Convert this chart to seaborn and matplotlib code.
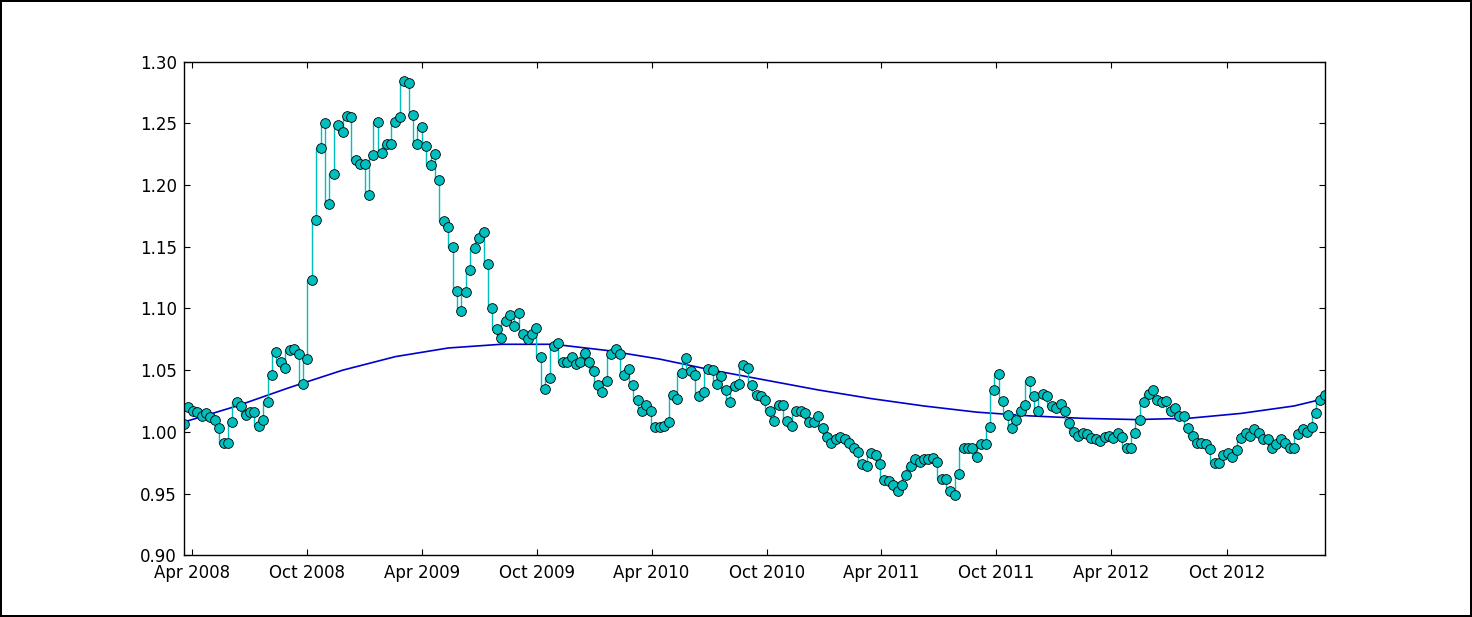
import numpy as np
import pandas as pd
import matplotlib
matplotlib.use("Agg")
import matplotlib.pyplot as plt
import matplotlib.dates as mdates
import seaborn as sns

# weekly values, starting mid March 2008
START_DATE = "2008-03-19"
VALUES = [
    1.006, 1.020, 1.017, 1.016, 1.013, 1.015, 1.012, 1.010, 1.003, 0.991,
    0.991, 1.008, 1.024, 1.021, 1.014, 1.016, 1.016, 1.005, 1.010, 1.024,
    1.046, 1.065, 1.057, 1.052, 1.066, 1.067, 1.063, 1.039, 1.059, 1.123,
    1.172, 1.230, 1.250, 1.185, 1.209, 1.249, 1.243, 1.256, 1.255, 1.220,
    1.217, 1.217, 1.192, 1.224, 1.251, 1.226, 1.233, 1.233, 1.251, 1.255,
    1.284, 1.283, 1.257, 1.233, 1.247, 1.232, 1.216, 1.225, 1.204, 1.171,
    1.166, 1.150, 1.114, 1.098, 1.113, 1.131, 1.149, 1.157, 1.162, 1.136,
    1.100, 1.083, 1.076, 1.090, 1.095, 1.086, 1.096, 1.079, 1.075, 1.079,
    1.084, 1.061, 1.035, 1.044, 1.070, 1.072, 1.057, 1.057, 1.061, 1.055,
    1.057, 1.064, 1.057, 1.049, 1.038, 1.032, 1.041, 1.063, 1.067, 1.063,
    1.046, 1.051, 1.038, 1.026, 1.017, 1.022, 1.017, 1.004, 1.004, 1.005,
    1.008, 1.030, 1.027, 1.048, 1.060, 1.049, 1.046, 1.029, 1.032, 1.051,
    1.050, 1.039, 1.045, 1.034, 1.024, 1.037, 1.039, 1.054, 1.052, 1.038,
    1.030, 1.029, 1.026, 1.017, 1.009, 1.022, 1.022, 1.009, 1.005, 1.017,
    1.017, 1.015, 1.008, 1.008, 1.013, 1.003, 0.996, 0.991, 0.994, 0.996,
    0.994, 0.991, 0.987, 0.984, 0.974, 0.972, 0.983, 0.981, 0.974, 0.961,
    0.960, 0.957, 0.952, 0.957, 0.965, 0.972, 0.978, 0.976, 0.978, 0.978,
    0.979, 0.976, 0.962, 0.962, 0.952, 0.949, 0.966, 0.987, 0.987, 0.987,
    0.980, 0.990, 0.990, 1.004, 1.034, 1.047, 1.025, 1.014, 1.003, 1.010,
    1.017, 1.022, 1.041, 1.029, 1.017, 1.031, 1.029, 1.021, 1.019, 1.023,
    1.017, 1.007, 1.000, 0.997, 0.999, 0.998, 0.995, 0.994, 0.993, 0.996,
    0.997, 0.995, 0.999, 0.996, 0.987, 0.987, 0.999, 1.010, 1.024, 1.031,
    1.034, 1.026, 1.024, 1.025, 1.017, 1.019, 1.013, 1.013, 1.003, 0.997,
    0.991, 0.991, 0.990, 0.986, 0.975, 0.975, 0.981, 0.983, 0.980, 0.985,
    0.995, 0.999, 0.997, 1.002, 0.999, 0.994, 0.994, 0.987, 0.990, 0.994,
    0.991, 0.987, 0.987, 0.998, 1.002, 1.000, 1.004, 1.015, 1.026, 1.030,
]

# trend line at every 12th week (last one at the end)
TREND_WEEKS = [0, 12, 24, 36, 48, 60, 72, 84, 96, 108, 120, 132,
               144, 156, 168, 180, 192, 204, 216, 228, 240, 252, 259]
TREND_VALUES = [1.008, 1.021, 1.036, 1.050, 1.061, 1.068, 1.071, 1.071,
                1.066, 1.059, 1.050, 1.042, 1.034, 1.027, 1.021, 1.016,
                1.013, 1.011, 1.010, 1.011, 1.015, 1.021, 1.027]

Y_TICKS = [0.90, 0.95, 1.00, 1.05, 1.10, 1.15, 1.20, 1.25, 1.30]

sns.set_style("white")
plt.rcParams.update({
    "font.family": ["DejaVu Sans"],
    "font.size": 12,
    "xtick.direction": "in",
    "ytick.direction": "in",
    "xtick.top": True,
    "ytick.right": True,
    "xtick.bottom": True,
    "ytick.left": True,
    "xtick.major.size": 4,
    "ytick.major.size": 4,
    "xtick.color": "black",
    "ytick.color": "black",
    "axes.edgecolor": "black",
    "axes.linewidth": 1.0,
})

dates = pd.date_range(START_DATE, periods=len(VALUES), freq="7D")
df = pd.DataFrame({"x": mdates.date2num(dates), "value": VALUES})
trend = pd.DataFrame({"x": df["x"].iloc[TREND_WEEKS].values, "value": TREND_VALUES})

fig = plt.figure(figsize=(14.72, 6.17), dpi=100)
fig.patch.set_edgecolor("black")
fig.patch.set_linewidth(1.5)
ax = fig.add_axes([0.125, 0.1, 0.775, 0.8])

# trend line
sns.lineplot(data=trend, x="x", y="value", color="#0000cc", lw=1.2, ax=ax)

sns.lineplot(data=df, x="x", y="value", drawstyle="steps", color="c",
             lw=1, marker="o", ms=7, mec="k", mew=0.6, ax=ax)

ax.set_xlim(df["x"].min(), df["x"].max())
ax.set_ylim(0.90, 1.30)
ax.set_yticks(Y_TICKS)
ax.yaxis.set_major_formatter(plt.FormatStrFormatter("%.2f"))
ax.xaxis.set_major_locator(mdates.MonthLocator(bymonth=[4, 10]))
ax.xaxis.set_major_formatter(mdates.DateFormatter("%b %Y"))
ax.set_xlabel("")
ax.set_ylabel("")
ax.tick_params(axis="y", labelsize=12, pad=5)
ax.tick_params(axis="x", labelsize=12, pad=6)

fig.savefig("out.png", dpi=100, edgecolor=fig.get_edgecolor())
